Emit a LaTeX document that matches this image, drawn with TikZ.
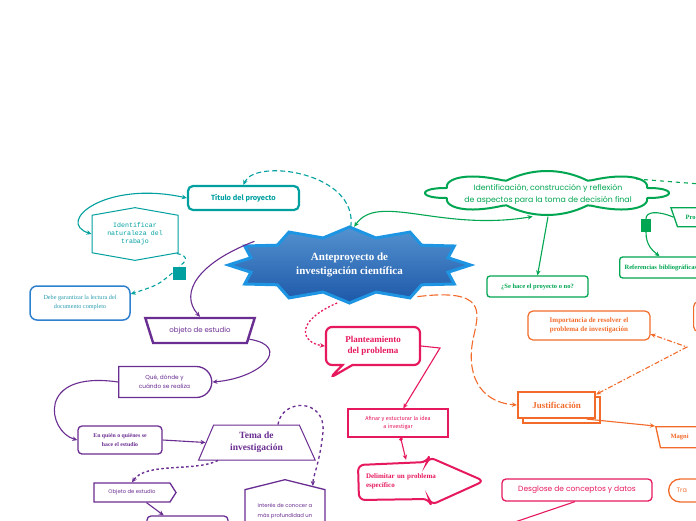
\documentclass[tikz,border=0pt]{standalone}
\usepackage{fontspec}
\setmainfont{Liberation Serif}
\setsansfont{Fira Sans}
\setmonofont{Liberation Mono}
\newfontfamily\handfont{Poppins}
\usetikzlibrary{arrows.meta}
\usetikzlibrary{shapes.geometric}
\usetikzlibrary{shapes.symbols}
\usetikzlibrary{shapes.callouts}
\usetikzlibrary{shapes.misc}
\usetikzlibrary{shadows}
\definecolor{mmteal}{HTML}{00A0A0}
\definecolor{mmsky}{HTML}{1E95E3}
\definecolor{mmblueA}{HTML}{5592D0}
\definecolor{mmblueB}{HTML}{1C58A8}
\definecolor{mmdebe}{HTML}{2F80CF}
\definecolor{mmdebetext}{HTML}{2A9DB0}
\definecolor{mmpurple}{HTML}{6A2D91}
\definecolor{mmgreen}{HTML}{00A651}
\definecolor{mmorange}{HTML}{F26B2B}
\definecolor{mmpink}{HTML}{E6195E}
\newcommand{\fs}[2]{\fontsize{#1pt}{#2pt}\selectfont}
\tikzset{
	tip/.style={-{Stealth[length=5pt,width=4.5pt]}},
	tips/.style={{Stealth[length=5pt,width=4.5pt]}-{Stealth[length=5pt,width=4.5pt]}},
	conn/.style={line width=1.1pt, tip},
	box/.style={fill=white, align=center, inner sep=2pt},
	% teal
	titlebox/.style={box, draw=mmteal, line width=2.2pt, rounded corners=5pt, minimum width=111pt, minimum height=24pt, text=mmteal, font=\sffamily\bfseries\fs{7.5}{9}},
	hexbox/.style={box, signal, signal to=north and south, signal pointer angle=160, draw=mmteal, line width=1pt, minimum width=86pt, minimum height=48pt, text=mmteal, font=\ttfamily\fs{6.6}{8}},
	debebox/.style={box, draw=mmdebe, line width=1.5pt, rounded corners=7pt, minimum width=100pt, minimum height=34pt, text=mmdebetext, font=\fs{6.2}{9}},
	% purple
	objbox/.style={box, trapezium, trapezium left angle=116, trapezium right angle=116, trapezium stretches=true, draw=mmpurple, line width=2.4pt, minimum width=110pt, minimum height=25pt, text=mmpurple, font=\handfont\fs{7}{8}},
	quebox/.style={box, rounded rectangle, rounded rectangle west arc=none, draw=mmpurple, line width=1.3pt, minimum width=97pt, minimum height=31pt, text=mmpurple, font=\handfont\fs{5.8}{9}},
	quienbox/.style={box, draw=mmpurple, line width=1.3pt, rounded corners=4pt, minimum width=84pt, minimum height=28pt, text=mmpurple, font=\bfseries\fs{5.8}{9}},
	temabox/.style={box, trapezium, trapezium left angle=68, trapezium right angle=67, trapezium stretches=true, draw=mmpurple, line width=1pt, minimum width=117pt, minimum height=35pt, text=mmpurple, font=\bfseries\fs{9.5}{12}},
	pentbox/.style={box, signal, signal to=east, signal pointer angle=115, draw=mmpurple, line width=1.3pt, minimum width=82pt, minimum height=19pt, text=mmpurple, font=\handfont\fs{5.3}{7}},
	interesbox/.style={box, signal, signal to=north, signal pointer angle=152, draw=mmpurple, line width=1.3pt, minimum width=80pt, minimum height=50pt, align=left, text=mmpurple, font=\handfont\fs{5.3}{10}},
	% green
	cloudline/.style={draw=mmgreen, fill=white, line width=2pt, line join=round},
	greenbox/.style={box, draw=mmgreen, line width=1.3pt, rounded corners=3pt, minimum height=21pt, text=mmgreen, font=\bfseries\fs{6.5}{8}},
	% pink
	plantbox/.style={box, rectangle callout, callout pointer width=10pt, draw=mmpink, line width=2.2pt, rounded corners=6pt, minimum width=94pt, minimum height=38pt, text=mmpink, font=\bfseries\fs{9}{11}},
	pinkbox/.style={box, draw=mmpink, line width=1.2pt, minimum width=100pt, minimum height=28pt, text=mmpink, font=\sffamily\fs{5.6}{8}},
	desgbox/.style={box, draw=mmpink, line width=1.3pt, rounded corners=4pt, minimum width=150pt, minimum height=22pt, text=mmpink, font=\handfont\fs{7.5}{9}},
	% orange
	justbox/.style={box, draw=mmorange, line width=2.2pt, minimum width=77pt, minimum height=26pt, text=mmorange, font=\bfseries\fs{9}{11},
		copy shadow={shadow xshift=5pt, shadow yshift=-5pt, draw=mmorange, fill=white, line width=2pt}},
	orbox/.style={box, draw=mmorange, line width=1.2pt, rounded corners=5pt, text=mmorange, font=\bfseries\fs{7}{9}}
}

\begin{document}
\begin{tikzpicture}[x=1pt,y=-1pt]
		\fill[white] (0,0) rectangle (696,520);
		\useasboundingbox (0,0) rectangle (696,520);

		% Anteproyecto
		\draw[line width=3pt, draw=mmsky, top color=mmblueA, bottom color=mmblueB]
			plot[samples at={0,15,...,345}, variable=\a] ({349.5+cos(\a)*(111.5+9.5*cos(12*\a))},{265+sin(\a)*(33+5*cos(12*\a))}) -- cycle;
		\node[ellipse, minimum width=242pt, minimum height=76pt, align=center, text=white, font=\bfseries\fs{11}{14}] (ante) at (349.5,265) {Anteproyecto de\\investigación científica};

		% Titulo del proyecto
		\node[titlebox] (titulo) at (243.5,198) {Título del proyecto};
		\node[hexbox] (ident) at (135,234) {Identificar\\naturaleza del\\trabajo};
		\node[fill=mmteal, minimum width=13pt, minimum height=13pt, inner sep=0pt] (sqa) at (179,273) {};
		\node[debebox] (debe) at (80,303) {Debe garantizar la lectura del\\documento completo};
		\draw[mmteal, conn, dash pattern=on 5pt off 3pt] (ante.88) .. controls (358,172) and (255,158) .. (titulo.north);
		\draw[mmteal, line width=1.1pt, tips] (titulo.west) .. controls (105,180) and (55,222) .. (ident.west);
		\draw[mmteal, line width=1.1pt, dash pattern=on 4pt off 3pt] (ident.-25) .. controls (190,256) and (186,262) .. (sqa.north);
		\draw[mmteal, conn, dash pattern=on 4pt off 3pt] (sqa.west) .. controls (158,285) .. (debe.10);

		% Objeto de estudio
		\node[objbox] (objeto) at (200,330.5) {objeto de estudio};
		\node[quebox] (que) at (164.5,382) {Qué, dónde y\\cuándo se realiza};
		\node[quienbox] (quien) at (120,440) {En quién o quiénes se\\hace el estudio};
		\node[temabox] (tema) at (256.5,442.5) {Tema de\\investigación};
		\node[pentbox] (objdos) at (132,492.5) {Objeto de estudio};
		\node[box, draw=mmpurple, line width=1.3pt, rounded corners=4pt, minimum width=81pt, minimum height=24pt] (vacio) at (187.5,528) {};
		\node[interesbox] (interes) at (285,511) {Interés de conocer a\\más profundidad un};
		\draw[mmpurple, conn] (ante.166) .. controls (200,262) and (178,292) .. (objeto.north);
		\draw[mmpurple, conn] (objeto.-10) .. controls (292,346) and (262,378) .. (que.east);
		\draw[mmpurple, conn] (que.west) .. controls (35,370) and (48,432) .. (quien.west);
		\draw[mmpurple, conn] (quien.east) -- (tema.west);
		\draw[mmpurple, conn, dash pattern=on 2.5pt off 2.5pt, line width=1.4pt] (tema.-155) .. controls (195,472) and (146,462) .. (objdos.north);
		\draw[mmpurple, conn] (objdos.-35) -- (vacio.152);
		\draw[mmpurple, conn, dash pattern=on 3pt off 3pt, line width=1.3pt] (tema.40) .. controls (282,398) and (326,398) .. (323,432) .. controls (320,462) and (313,476) .. (interes.42);

		% Identificacion
		\draw[cloudline] plot[samples at={0,2,...,358}, variable=\a] ({547+cos(\a)*(108+14*abs(cos(4*\a)))},{193+sin(\a)*(13+9*abs(cos(4*\a)))}) -- cycle;
		\node[ellipse, minimum width=244pt, minimum height=44pt, align=center, text=mmgreen, font=\handfont\fs{7.8}{12}] (nube) at (548,194.5) {Identificación, construcción y reflexión\\de aspectos para la toma de decisión final};
		\node[greenbox, minimum width=101pt] (sehace) at (537.5,286.5) {¿Se hace el proyecto o no?};
		\node[box, trapezium, trapezium left angle=124, trapezium right angle=56, trapezium stretches=true, anchor=top left corner, draw=mmgreen, line width=1.3pt, minimum width=100pt, minimum height=19pt, text width=70pt, align=left, text=mmgreen, font=\bfseries\fs{6.5}{8}] (pro) at (670,207) {Pro};
		\node[fill=mmgreen, minimum width=10pt, minimum height=13pt, inner sep=0pt] (sqb) at (646,225.5) {};
		\node[greenbox, anchor=west, minimum width=120pt, text width=110pt, align=left] (refs) at (619,267.5) {Referencias bibliográficas};
		\coordinate (borde) at (700,184);
		\draw[mmgreen, line width=1.1pt, tips] (nube.-125) .. controls (440,232) and (378,192) .. (ante.83);
		\draw[mmgreen, conn] (nube.south) -- (sehace.north);
		\draw[mmgreen, line width=1.1pt, dash pattern=on 4pt off 4pt] (nube.10) -- (borde);
		\draw[mmgreen, line width=1.1pt] (pro.west) .. controls (656,210) and (646,212) .. (sqb.north);
		\draw[mmgreen, conn] (sqb.south) .. controls (646,245) and (652,250) .. (refs.151);

		% Planteamiento del problema
		\node[plantbox, callout absolute pointer={(330,378)}] (plant) at (373,346) {Planteamiento\\del problema};
		\node[pinkbox] (afinar) at (398,423) {Afinar y estucturar la idea\\a investigar};
		\draw[mmpink, fill=white, line width=2pt, rounded corners=6pt] (358,465) -- (427,462) -- (429,457) -- (484,481) -- (431,505) -- (429,499) -- (359,500) -- cycle;
		\node[minimum width=125pt, minimum height=42pt, text width=80pt, align=left, text=mmpink, font=\bfseries\fs{7}{9}] (delim) at (406,481) {Delimitar un problema\\específico};
		\node[desgbox] (desglose) at (577,490) {Desglose de conceptos y datos};
		\coordinate (codo) at (440,348);
		\coordinate (abajo) at (512,523);
		\draw[mmpink, conn, dash pattern=on 2pt off 2pt, line width=1.3pt] (ante.-108) .. controls (293,322) and (302,343) .. (plant.west);
		\draw[mmpink, conn] (plant.east) -- (codo) -- (afinar.70);
		\draw[mmpink, line width=1.1pt, {Circle[length=3.5pt]}-{Stealth[length=5pt,width=4.5pt]}] (afinar.-80) -- (delim.north);
		\draw[mmpink, line width=1.1pt] (desglose.-100) -- (abajo);

		% Justificacion
		\node[justbox] (justif) at (556.5,405) {Justificación};
		\node[orbox, minimum width=122pt, minimum height=29pt] (import) at (589,325.5) {Importancia de resolver el\\problema de investigación};
		\node[orbox, anchor=north west, minimum width=40pt, minimum height=30pt] (orcaja) at (693,301) {};
		\node[box, trapezium, trapezium left angle=111, trapezium right angle=69, trapezium stretches=true, anchor=top left corner, draw=mmorange, line width=1.3pt, minimum width=100pt, minimum height=21pt, text width=70pt, align=left, text=mmorange, font=\bfseries\fs{6.5}{8}] (magni) at (655,426) {Magni};
		\node[box, rounded rectangle, anchor=west, draw=mmorange, line width=1.3pt, minimum width=80pt, minimum height=23pt, text width=60pt, align=left, text=mmorange, font=\handfont\fs{6.5}{8}] (tra) at (668,490.5) {Tra};
		\coordinate (quiebre) at (687,347);
		\draw[mmorange, conn, dash pattern=on 9pt off 3pt] (ante.-25) .. controls (486,288) and (479,312) .. (474,335) .. controls (465,372) and (478,402) .. (justif.west);
		\draw[mmorange, line width=1.1pt, tips, dash pattern=on 5pt off 2pt on 1.5pt off 2pt] (justif.15) -- (quiebre) -- (import.-8);
		\draw[mmorange, conn] (justif.-25) -- (magni.top left corner);
	\end{tikzpicture}
\end{document}
